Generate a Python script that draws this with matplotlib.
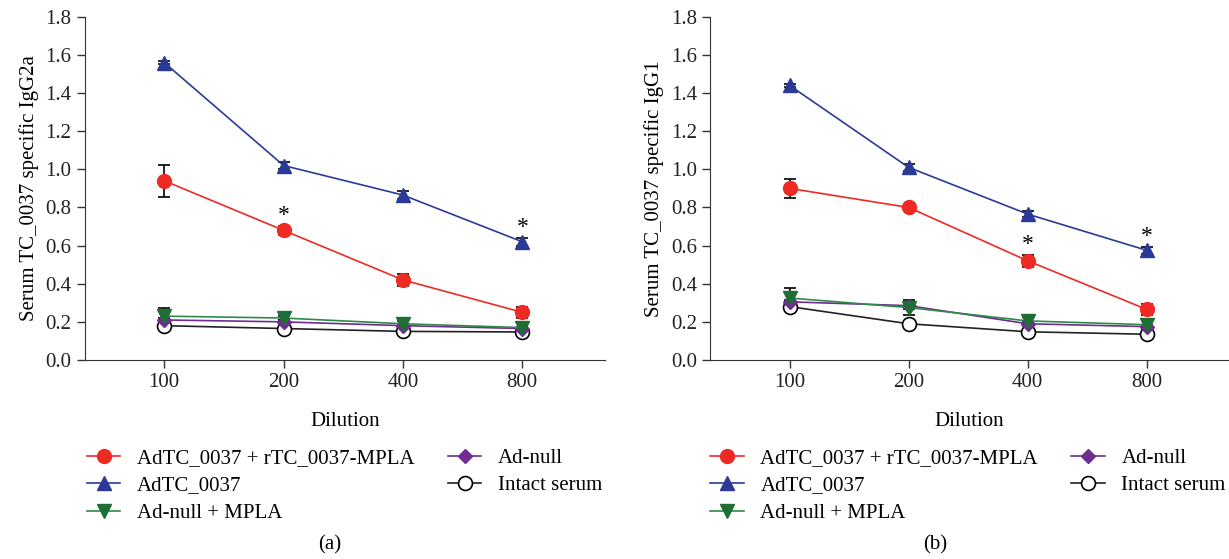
import matplotlib
matplotlib.use("Agg")
import matplotlib.pyplot as plt
from matplotlib.lines import Line2D

plt.rcParams['font.family'] = ['Liberation Serif', 'DejaVu Serif']
plt.rcParams['font.size'] = 15

dilutions = ['100', '200', '400', '800']
groupes = ['AdTC_0037 + rTC_0037-MPLA', 'AdTC_0037', 'Ad-null + MPLA', 'Ad-null', 'Intact serum']

# IgG2a (a)
igg2a_red = [0.94, 0.68, 0.42, 0.25]
igg2a_red_err = [0.085, 0.025, 0.03, 0.03]
igg2a_blue = [1.56, 1.02, 0.865, 0.62]
igg2a_blue_err = [0.01, 0.02, 0.02, 0.02]
igg2a_green = [0.23, 0.22, 0.19, 0.17]
igg2a_green_err = [0.045, 0.01, 0.015, 0.03]
igg2a_purple = [0.21, 0.20, 0.18, 0.165]
igg2a_purple_err = [0.01, 0.01, 0.01, 0.01]
igg2a_white = [0.18, 0.165, 0.15, 0.147]
igg2a_white_err = [0.005, 0.005, 0.005, 0.005]

# IgG1 (b)
igg1_red = [0.90, 0.80, 0.52, 0.265]
igg1_red_err = [0.05, 0.01, 0.03, 0.03]
igg1_blue = [1.44, 1.01, 0.765, 0.575]
igg1_blue_err = [0.01, 0.02, 0.015, 0.02]
igg1_green = [0.325, 0.275, 0.205, 0.185]
igg1_green_err = [0.05, 0.04, 0.02, 0.03]
igg1_purple = [0.305, 0.285, 0.19, 0.175]
igg1_purple_err = [0.01, 0.015, 0.01, 0.01]
igg1_white = [0.28, 0.19, 0.148, 0.135]
igg1_white_err = [0.01, 0.01, 0.005, 0.005]

# significance stars: (series, index)
etoiles_a = [('red', 1), ('blue', 3)]
etoiles_b = [('red', 2), ('blue', 3)]

styles = {
    'red': dict(color='#ee2a24', marker='o', mfc='#ee2a24', mec='#ee2a24', ms=10),
    'blue': dict(color='#2b3a97', marker='^', mfc='#2b3a97', mec='#2b3a97', ms=10),
    'green': dict(color='#2e8b47', marker='v', mfc='#1f6e35', mec='#1f6e35', ms=10),
    'purple': dict(color='#6f2c91', marker='D', mfc='#6f2c91', mec='#6f2c91', ms=7.5),
    'white': dict(color='#222222', marker='o', mfc='white', mec='black', ms=10, mew=1.2),
}
ordre = ['white', 'purple', 'green', 'red', 'blue']


def tracer(ax, data, etoiles, ylabel):
    x = list(range(len(dilutions)))
    for cle in ordre:
        y, err = data[cle]
        ax.errorbar(x, y, yerr=err, fmt='none', ecolor='black', elinewidth=1.2,
                    capsize=4, capthick=1.2, zorder=2)
        ax.plot(x, y, lw=1.2, zorder=3, **styles[cle])
    for cle, i in etoiles:
        y, err = data[cle]
        ax.annotate('*', (i, y[i] + err[i]), xytext=(0, 0), textcoords='offset points',
                    ha='center', va='bottom', fontsize=17)
    ax.set_xlim(-0.665, 3.69)
    ax.set_ylim(0, 1.8)
    ax.set_yticks([0.0, 0.2, 0.4, 0.6, 0.8, 1.0, 1.2, 1.4, 1.6, 1.8])
    ax.set_yticklabels(['%.1f' % v for v in ax.get_yticks()])
    ax.set_xticks(x)
    ax.set_xticklabels(dilutions)
    ax.spines['top'].set_visible(False)
    ax.spines['right'].set_visible(False)
    ax.spines['left'].set_color('#333333')
    ax.spines['bottom'].set_color('#333333')
    ax.tick_params(direction='out', length=6, width=1, colors='#333333', labelcolor='#222222')
    ax.set_xlabel('Dilution', labelpad=14)
    ax.set_ylabel(ylabel, labelpad=5)


fig = plt.figure(figsize=(12.29, 5.59), dpi=100)
ax1 = fig.add_axes([0.069, 0.356, 0.423, 0.614])
ax2 = fig.add_axes([0.578, 0.356, 0.422, 0.614])

data_a = {'red': (igg2a_red, igg2a_red_err), 'blue': (igg2a_blue, igg2a_blue_err),
          'green': (igg2a_green, igg2a_green_err), 'purple': (igg2a_purple, igg2a_purple_err),
          'white': (igg2a_white, igg2a_white_err)}
data_b = {'red': (igg1_red, igg1_red_err), 'blue': (igg1_blue, igg1_blue_err),
          'green': (igg1_green, igg1_green_err), 'purple': (igg1_purple, igg1_purple_err),
          'white': (igg1_white, igg1_white_err)}

tracer(ax1, data_a, etoiles_a, 'Serum TC_0037 specific IgG2a')
tracer(ax2, data_b, etoiles_b, 'Serum TC_0037 specific IgG1')

handles = [Line2D([], [], lw=1.2, **styles[c]) for c in ['red', 'blue', 'green', 'purple', 'white']]
for xa in [0.0708, 0.578]:
    fig.legend(handles, groupes, ncol=2, loc='upper left', bbox_to_anchor=(xa, 0.198),
               frameon=False, borderpad=0, borderaxespad=0, handlelength=1.6,
               handletextpad=0.8, columnspacing=1.6, labelspacing=0.38, fontsize=15)

fig.text(0.268, 0.025, '(a)', ha='center', va='center', fontsize=15)
fig.text(0.761, 0.025, '(b)', ha='center', va='center', fontsize=15)

fig.savefig('out.png', dpi=100)
